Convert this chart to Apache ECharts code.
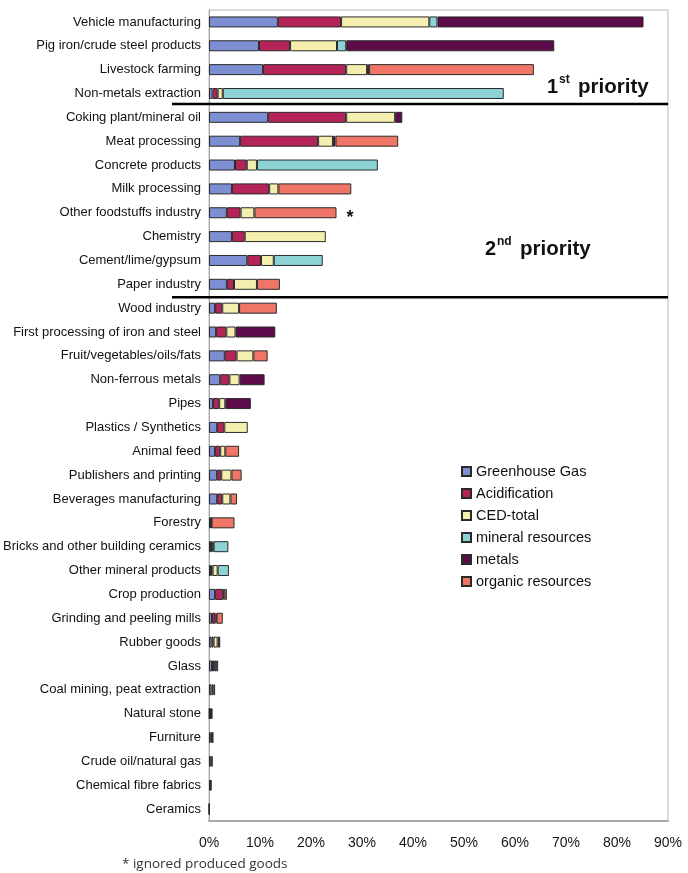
<!DOCTYPE html>
<html>
<head>
<meta charset="utf-8">
<script src="https://cdn.jsdelivr.net/npm/echarts@6/dist/echarts.min.js"></script>
<style>
html,body{margin:0;padding:0;background:#fff;}
#chart{width:688px;height:873px;}
</style>
</head>
<body>
<div id="chart"></div>
<script>
var categories = [
  "Vehicle manufacturing","Pig iron/crude steel products","Livestock farming","Non-metals extraction",
  "Coking plant/mineral oil","Meat processing","Concrete products","Milk processing",
  "Other foodstuffs industry","Chemistry","Cement/lime/gypsum","Paper industry",
  "Wood industry","First processing of iron and steel","Fruit/vegetables/oils/fats","Non-ferrous metals",
  "Pipes","Plastics / Synthetics","Animal feed","Publishers and printing",
  "Beverages manufacturing","Forestry","Bricks and other building ceramics","Other mineral products",
  "Crop production","Grinding and peeling mills","Rubber goods","Glass",
  "Coal mining, peat extraction","Natural stone","Furniture","Crude oil/natural gas",
  "Chemical fibre fabrics","Ceramics"
];
var greenhouseGas = [13.5,9.8,10.6,0.7, 11.6,6.1,5.1,4.5, 3.5,4.5,7.5,3.5, 1.2,1.4,3.1,2.2, 0.8,1.6,1.2,1.6, 1.6,0.3,0.4,0.4, 1.2,0.6,0.5,0.6, 0.5,0.1,0.3,0.3, 0.2,0.05];
var acidification = [12.4,6.1,16.3,1.0, 15.3,15.3,2.3,7.3, 2.7,2.5,2.7,1.4, 1.4,2.0,2.3,1.8, 1.2,1.4,1.0,0.8, 1.0,0.1,0.3,0.3, 1.6,0.7,0.4,0.4, 0.4,0.1,0.2,0.2, 0.1,0.03];
var cedTotal = [17.3,9.2,4.1,1.0, 9.6,2.9,2.0,1.8, 2.7,15.9,2.5,4.5, 3.3,1.8,3.3,2.0, 1.2,4.6,1.0,2.0, 1.6,0.1,0.2,1.0, 0.2,0.2,0.8,0.4, 0.3,0.2,0.2,0.2, 0.2,0.02];
var mineralResources = [1.6,1.8,0,55.1, 0,0,23.7,0, 0,0,9.6,0, 0,0,0,0, 0,0,0,0, 0,0,2.9,2.2, 0,0,0,0.4, 0,0.3,0,0, 0,0];
var metals = [40.4,40.8,0.4,0, 1.4,0.5,0,0, 0,0,0,0, 0,7.8,0,4.9, 5.0,0,0,0, 0,0,0,0, 0,0,0.5,0, 0,0,0,0, 0,0];
var organicResources = [0,0,32.3,0, 0,12.3,0,14.3, 16.1,0,0,4.5, 7.4,0,2.8,0, 0,0,2.7,2.0, 1.3,4.5,0,0, 0.5,1.2,0,0, 0,0,0.1,0, 0,0];
var xTicks = [0,10,20,30,40,50,60,70,80,90];

var seriesNames = ["Greenhouse Gas","Acidification","CED-total","mineral resources","metals","organic resources"];
var seriesData = [greenhouseGas, acidification, cedTotal, mineralResources, metals, organicResources];
var seriesColors = ["#7d8fd2","#b52458","#f4efae","#8dd3d6","#5e0b4c","#ef7567"];

var chart = echarts.init(document.getElementById('chart'));
var FONT = '"Liberation Sans", Arial, sans-serif';

var series = seriesNames.map(function(n, i){
  return {
    name: n,
    type: 'bar',
    stack: 'total',
    barWidth: 11,
    itemStyle: {color: seriesColors[i], borderColor: '#2a2a2a', borderWidth: 1},
    emphasis: {disabled: true},
    data: seriesData[i].map(function(v){ return v === 0 ? '-' : v; })
  };
});

chart.setOption({
  animation: false,
  grid: {left: 209, right: 20, top: 10, bottom: 52, show: true, borderColor: '#b8b8b8', borderWidth: 1},
  xAxis: {
    type: 'value', min: xTicks[0], max: xTicks[xTicks.length-1], interval: 10,
    axisLine: {show: true, lineStyle: {color: '#a8a8a8', width: 2}},
    axisTick: {show: false},
    splitLine: {show: false},
    axisLabel: {formatter: '{value}%', color: '#151515', fontFamily: FONT, fontSize: 14, margin: 15}
  },
  yAxis: {
    type: 'category', inverse: true, data: categories,
    axisLine: {show: true, lineStyle: {color: '#a8a8a8', width: 1}},
    axisTick: {show: false},
    axisLabel: {color: '#111', fontFamily: FONT, fontSize: 13, margin: 8}
  },
  legend: {
    orient: 'vertical', left: 461, top: 464, padding: 0, itemWidth: 9, itemHeight: 9, itemGap: 7,
    icon: 'rect', selectedMode: false,
    textStyle: {color: '#111', fontFamily: FONT, fontSize: 14.5},
    data: seriesNames
  },
  series: series
});

function sepY(a){
  var y1 = chart.convertToPixel({yAxisIndex: 0}, categories[a]);
  var y2 = chart.convertToPixel({yAxisIndex: 0}, categories[a+1]);
  return (y1 + y2) / 2;
}
var rightX = chart.convertToPixel({xAxisIndex: 0}, xTicks[xTicks.length-1]);
var s1 = sepY(3) - 1.5, s2 = sepY(11) + 1;
var starX = chart.convertToPixel({xAxisIndex: 0}, greenhouseGas[8]+acidification[8]+cedTotal[8]+organicResources[8]);
var starY = chart.convertToPixel({yAxisIndex: 0}, categories[8]);

chart.setOption({
  graphic: [
    {type: 'line', shape: {x1: 172, y1: s1, x2: rightX, y2: s1}, style: {stroke: '#000', lineWidth: 2.5}, z: 100},
    {type: 'line', shape: {x1: 172, y1: s2, x2: rightX, y2: s2}, style: {stroke: '#000', lineWidth: 2.5}, z: 100},
    {type: 'text', left: 547, top: 77, style: {text: '1', font: 'bold 20px ' + FONT, fill: '#111'}, z: 100},
    {type: 'text', left: 559, top: 74, style: {text: 'st', font: 'bold 12px ' + FONT, fill: '#111'}, z: 100},
    {type: 'text', left: 578, top: 77, style: {text: 'priority', font: 'bold 20.5px ' + FONT, fill: '#111'}, z: 100},
    {type: 'text', left: 485, top: 239, style: {text: '2', font: 'bold 20px ' + FONT, fill: '#111'}, z: 100},
    {type: 'text', left: 497, top: 236, style: {text: 'nd', font: 'bold 12px ' + FONT, fill: '#111'}, z: 100},
    {type: 'text', left: 520, top: 239, style: {text: 'priority', font: 'bold 20.5px ' + FONT, fill: '#111'}, z: 100},
    {type: 'text', x: starX + 10, y: starY + 5, style: {text: '*', font: 'bold 18px ' + FONT, fill: '#111', textAlign: 'left', textVerticalAlign: 'middle'}, z: 100},
    {type: 'text', left: 122, top: 857, style: {text: '* ignored produced goods', font: '13.5px "Open Sans", "Noto Sans", sans-serif', fill: '#333'}, z: 100}
  ]
});
</script>
</body>
</html>
